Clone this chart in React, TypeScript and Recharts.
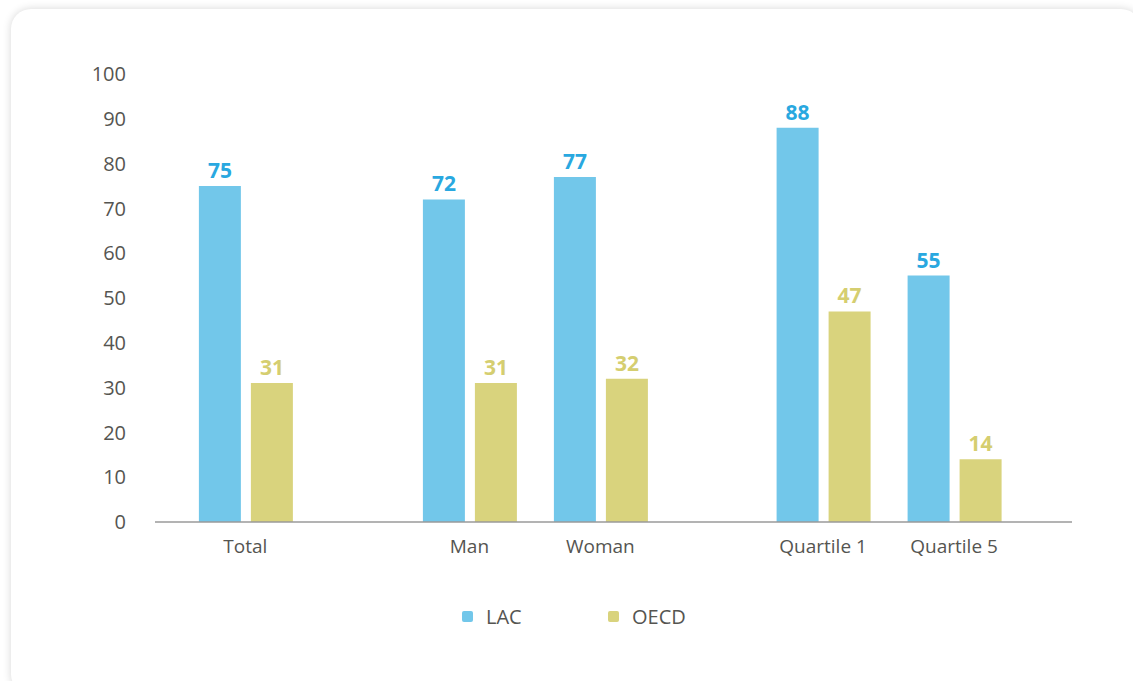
import React from 'react';
import { BarChart, Bar, XAxis, YAxis, Legend, LabelList } from 'recharts';

// Categories and their slot positions along the x axis (1 unit = one bar-pair slot)
const categories = ['Total', 'Man', 'Woman', 'Quartile 1', 'Quartile 5'];
const positions = [0.69, 2.4, 3.4, 5.1, 6.1];
const lacValues = [75, 72, 77, 88, 55];
const oecdValues = [31, 31, 32, 47, 14];
const yTicks = [0, 10, 20, 30, 40, 50, 60, 70, 80, 90, 100];

const LAC_COLOR = '#72C7EA';
const OECD_COLOR = '#D9D37D';
const FONT = '"Open Sans", "Noto Sans", sans-serif';
const TEXT_COLOR = '#555551';

const data = categories.map((name, i) => ({
    name,
    pos: positions[i],
    LAC: lacValues[i],
    OECD: oecdValues[i],
}));

const CustomLegend: React.FC<{ payload?: any[] }> = ({ payload }) => {
    if (!payload) return null;
    return (
        <div style={{ display: 'flex', fontFamily: FONT, fontSize: 20, fontWeight: 500, color: TEXT_COLOR }}>
            {payload.map((entry, index) => (
                <div key={`item-${index}`} style={{ display: 'flex', alignItems: 'center', width: 146 }}>
                    <span style={{ width: 11, height: 11, borderRadius: 2, background: entry.color, marginRight: 13 }} />
                    <span>{entry.value}</span>
                </div>
            ))}
        </div>
    );
};

const App: React.FC = () => {
    return (
        <div style={{ position: 'relative', width: 1133, height: 681, overflow: 'hidden', background: '#fff' }}>
            <style>{`body{margin:0;overflow:hidden}`}</style>
            <div
                style={{
                    position: 'absolute',
                    left: 11,
                    top: 9,
                    width: 1130,
                    height: 685,
                    borderRadius: 20,
                    background: '#fff',
                    boxShadow: '0 0 8px rgba(0,0,0,0.16)',
                }}
            />
            <div style={{ position: 'absolute', left: 0, top: 0 }}>
                <BarChart
                    width={1133}
                    height={681}
                    data={data}
                    margin={{ top: 74, right: 61, left: 95, bottom: 129 }}
                    barGap={10}
                    barSize={42}
                >
                    <XAxis
                        dataKey="pos"
                        type="number"
                        domain={[0, 7]}
                        ticks={positions}
                        tickFormatter={(v: number) => categories[positions.indexOf(v)] ?? ''}
                        interval={0}
                        axisLine={{ stroke: '#9a9a9a', strokeWidth: 1.5 }}
                        tickLine={false}
                        tickSize={0}
                        tickMargin={18}
                        tick={{ fill: TEXT_COLOR, fontSize: 19, fontWeight: 500, fontFamily: FONT }}
                    />
                    <YAxis
                        domain={[0, 100]}
                        ticks={yTicks}
                        interval={0}
                        axisLine={false}
                        tickLine={false}
                        tickSize={0}
                        tickMargin={29}
                        width={60}
                        tick={{ fill: TEXT_COLOR, fontSize: 20, fontWeight: 500, fontFamily: FONT }}
                    />
                    <Legend
                        verticalAlign="middle"
                        align="center"
                        layout="horizontal"
                        wrapperStyle={{ top: 603, left: 462, width: 400 }}
                        content={(props: any) => <CustomLegend payload={props.payload} />}
                    />
                    <Bar dataKey="LAC" name="LAC" fill={LAC_COLOR} isAnimationActive={false}>
                        <LabelList
                            dataKey="LAC"
                            position="top"
                            offset={8}
                            style={{ fill: '#29A8E0', fontSize: 21, fontWeight: 700, fontFamily: FONT }}
                        />
                    </Bar>
                    <Bar dataKey="OECD" name="OECD" fill={OECD_COLOR} isAnimationActive={false}>
                        <LabelList
                            dataKey="OECD"
                            position="top"
                            offset={8}
                            style={{ fill: '#D5CE70', fontSize: 21, fontWeight: 700, fontFamily: FONT }}
                        />
                    </Bar>
                </BarChart>
            </div>
        </div>
    );
};

export default App;
